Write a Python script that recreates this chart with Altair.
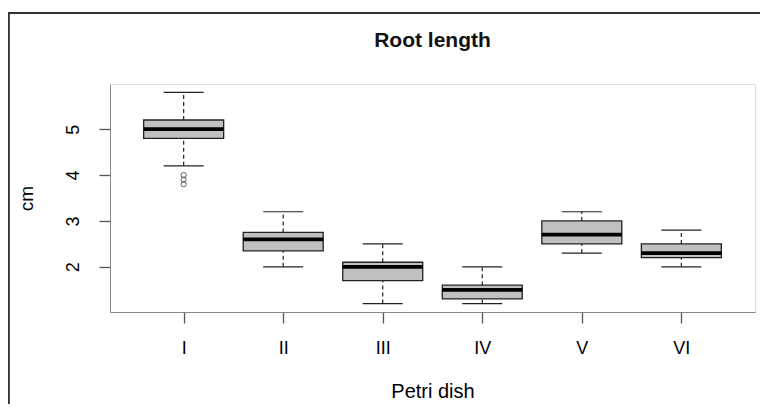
import altair as alt
import pandas as pd

cats = ["I", "II", "III", "IV", "V", "VI"]
whisker_low = [4.2, 2.0, 1.2, 1.2, 2.3, 2.0]
q1 = [4.8, 2.35, 1.7, 1.3, 2.5, 2.2]
median = [5.0, 2.6, 2.0, 1.5, 2.7, 2.3]
q3 = [5.2, 2.75, 2.1, 1.6, 3.0, 2.5]
whisker_high = [5.8, 3.2, 2.5, 2.0, 3.2, 2.8]
outlier_cat = ["I", "I", "I"]
outlier_val = [3.8, 3.9, 4.0]
y_ticks = [2, 3, 4, 5]

df = pd.DataFrame({"dish": cats, "lo": whisker_low, "q1": q1, "med": median,
                   "q3": q3, "hi": whisker_high})
out = pd.DataFrame({"dish": outlier_cat, "v": outlier_val})

FONT = "Liberation Sans"
DARK = "#222222"

xs = alt.X("dish:N", scale=alt.Scale(type="point", domain=cats, padding=0.74),
           axis=alt.Axis(title="Petri dish", labelAngle=0, tickSize=11, tickColor="#555",
                         tickWidth=1.3, labelPadding=16, labelFontSize=18,
                         titleFontSize=20, titlePadding=24, titleFontWeight="normal"))
yscale = alt.Scale(domain=[1.016, 5.984], nice=False, zero=False)
ys = alt.Y("lo:Q", scale=yscale,
           axis=alt.Axis(title="cm", values=y_ticks, labelAngle=-90, labelAlign="center",
                         labelBaseline="bottom", tickSize=11, tickColor="#555", tickWidth=1.3,
                         labelPadding=17, labelFontSize=18, titleFontSize=19,
                         titlePadding=28, titleFontWeight="normal", grid=False))

base = alt.Chart(df)

whisk_lo = base.mark_rule(color=DARK, strokeWidth=1.2, strokeDash=[4, 3]).encode(
    x=xs, y=ys, y2="q1:Q")
whisk_hi = base.mark_rule(color=DARK, strokeWidth=1.2, strokeDash=[4, 3]).encode(
    x="dish:N", y=alt.Y("q3:Q", scale=yscale), y2="hi:Q")
cap_lo = base.mark_tick(orient="horizontal", size=40, thickness=1.2, color=DARK, opacity=1).encode(
    x="dish:N", y=alt.Y("lo:Q", scale=yscale))
cap_hi = base.mark_tick(orient="horizontal", size=40, thickness=1.2, color=DARK, opacity=1).encode(
    x="dish:N", y=alt.Y("hi:Q", scale=yscale))
box = base.mark_bar(size=80, fill="#c0c0c0", stroke=DARK, strokeWidth=1.3).encode(
    x="dish:N", y=alt.Y("q1:Q", scale=yscale), y2="q3:Q")
med = base.mark_tick(orient="horizontal", size=80, thickness=3.8, color="#000000", opacity=1).encode(
    x="dish:N", y=alt.Y("med:Q", scale=yscale))
outl = alt.Chart(out).mark_point(shape="circle", filled=False, size=28, color=DARK,
                                 strokeWidth=1).encode(
    x="dish:N", y=alt.Y("v:Q", scale=yscale))

# outer figure border (decoration)
frame_left = alt.Chart(df).mark_rule(color="#333", strokeWidth=1.5).encode(
    x=alt.value(-101.5), y=alt.value(-71), y2=alt.value(330))
frame_top = alt.Chart(df).mark_rule(color="#333", strokeWidth=1.5).encode(
    x=alt.value(-101.5), x2=alt.value(660), y=alt.value(-71))

chart = alt.layer(frame_left, frame_top, whisk_lo, whisk_hi, cap_lo, cap_hi, box, med, outl).properties(
    width=645, height=228,
    title=alt.TitleParams("Root length", fontSize=21, fontWeight="bold", font=FONT,
                          color="#111", offset=-39, anchor="middle"),
    autosize=alt.AutoSizeParams(type="none"),
    padding={"left": 102, "top": 76, "right": 5, "bottom": 92},
).configure_view(stroke="#555", strokeWidth=1.4).configure_axis(
    domain=False, labelFont=FONT, titleFont=FONT, labelColor="#333", titleColor="#333"
).configure(background="white")

chart.save("out.html", embed_options={"renderer": "svg", "actions": False})
